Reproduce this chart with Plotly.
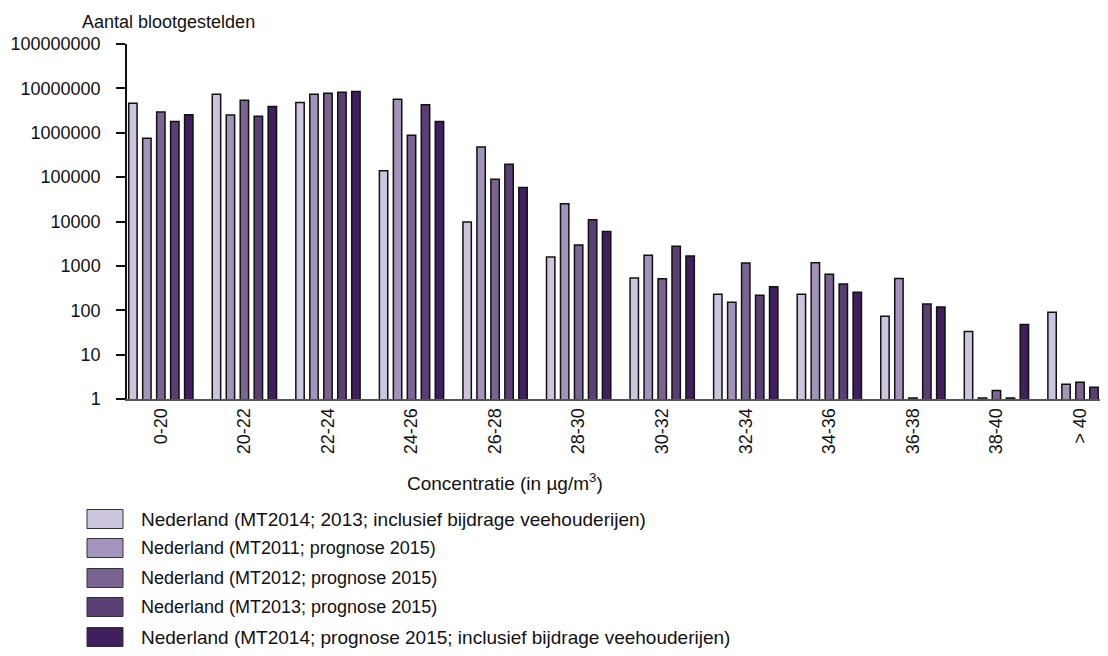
import plotly.graph_objects as go

categories = ["0-20", "20-22", "22-24", "24-26", "26-28", "28-30",
              "30-32", "32-34", "34-36", "36-38", "38-40", "> 40"]

series_names = [
    "Nederland (MT2014; 2013; inclusief bijdrage veehouderijen)",
    "Nederland (MT2011; prognose 2015)",
    "Nederland (MT2012; prognose 2015)",
    "Nederland (MT2013; prognose 2015)",
    "Nederland (MT2014; prognose 2015; inclusief bijdrage veehouderijen)",
]

mt2014_2013 = [4.6e6, 7.4e6, 4.8e6, 1.4e5, 9.8e3, 1590, 530, 230, 230, 73, 33, 90]
mt2011_2015 = [7.5e5, 2.5e6, 7.4e6, 5.7e6, 4.8e5, 25000, 1730, 152, 1180, 520, 1.05, 2.15]
mt2012_2015 = [2.95e6, 5.4e6, 7.8e6, 8.8e5, 9.0e4, 2960, 510, 1160, 650, 1.05, 1.55, 2.4]
mt2013_2015 = [1.8e6, 2.35e6, 8.2e6, 4.3e6, 1.96e5, 10900, 2770, 219, 388, 139, 1.05, 1.84]
mt2014_2015 = [2.55e6, 3.9e6, 8.45e6, 1.8e6, 5.8e4, 5940, 1670, 338, 256, 119, 48, 107]

series_values = [mt2014_2013, mt2011_2015, mt2012_2015, mt2013_2015, mt2014_2015]
colors = ["#CDC5DD", "#A294BB", "#7A6492", "#5A3F74", "#3F1F5D"]

y_tickvals = [1, 10, 100, 1000, 10000, 100000, 1000000, 10000000, 100000000]
y_ticktext = ["1", "10", "100", "1000", "10000", "100000", "1000000", "10000000", "100000000"]

FONT = "Liberation Sans, Arial, sans-serif"
OFF = 8  # page body margin offset
W, H = 1108 - OFF, 656 - 2 * OFF
L, T, R, B = 127 - OFF, 44 - OFF, 1108 - OFF, 399 - OFF  # plot area in figure pixels


def px_x(px):
    # px given in screenshot coordinates
    return (px - OFF - L) / (R - L)


def px_y(py):
    return (B - (py - OFF)) / (B - T)


fig = go.Figure()
for name, vals, col in zip(series_names, series_values, colors):
    fig.add_trace(go.Bar(
        x=categories, y=vals, name=name,
        marker=dict(color=col, line=dict(color="#111111", width=1.5)),
        showlegend=False,
    ))

shapes = []
annotations = []
legend_y = [519, 548, 578, 607, 637]
for name, col, cy in zip(series_names, colors, legend_y):
    shapes.append(dict(type="rect", xref="paper", yref="paper",
                       x0=px_x(87), x1=px_x(123), y0=px_y(cy + 9.5), y1=px_y(cy - 9.5),
                       fillcolor=col, line=dict(color="#333333", width=1)))
    fsize = 19 if "inclusief" in name else 18
    annotations.append(dict(text=name, xref="paper", yref="paper",
                            x=px_x(139), y=px_y(cy), xanchor="left", yanchor="middle",
                            showarrow=False, font=dict(size=fsize, color="#111111", family=FONT)))

annotations.append(dict(text="Aantal blootgestelden", xref="paper", yref="paper",
                        x=px_x(80), y=px_y(22), xanchor="left", yanchor="middle",
                        showarrow=False, font=dict(size=18, color="#111111", family=FONT)))
annotations.append(dict(text="Concentratie (in µg/m<sup>3</sup>)", xref="paper", yref="paper",
                        x=px_x(505), y=px_y(482), xanchor="center", yanchor="middle",
                        showarrow=False, font=dict(size=19, color="#111111", family=FONT)))

fig.update_layout(
    width=W, height=H,
    margin=dict(l=L, r=W - R, t=T, b=H - B, pad=0),
    paper_bgcolor="white", plot_bgcolor="white",
    barmode="group", bargap=0.164, bargroupgap=0.4,
    font=dict(family=FONT, size=18, color="#111111"),
    shapes=shapes, annotations=annotations,
    xaxis=dict(type="category", range=[-0.405, 11.335], tickangle=-90,
               showline=True, linecolor="#555555", linewidth=2,
               ticks="", showgrid=False, zeroline=False,
               tickfont=dict(size=18, family=FONT, color="#111111")),
    yaxis=dict(type="log", range=[0, 8], tickvals=y_tickvals, ticktext=y_ticktext,
               showline=True, linecolor="#111111", linewidth=1.5,
               ticks="outside", ticklen=9, tickcolor="#111111", tickwidth=1.5,
               ticklabelstandoff=12,
               showgrid=False, zeroline=False,
               tickfont=dict(size=18, family=FONT, color="#111111")),
)

fig.write_html("out.html")
